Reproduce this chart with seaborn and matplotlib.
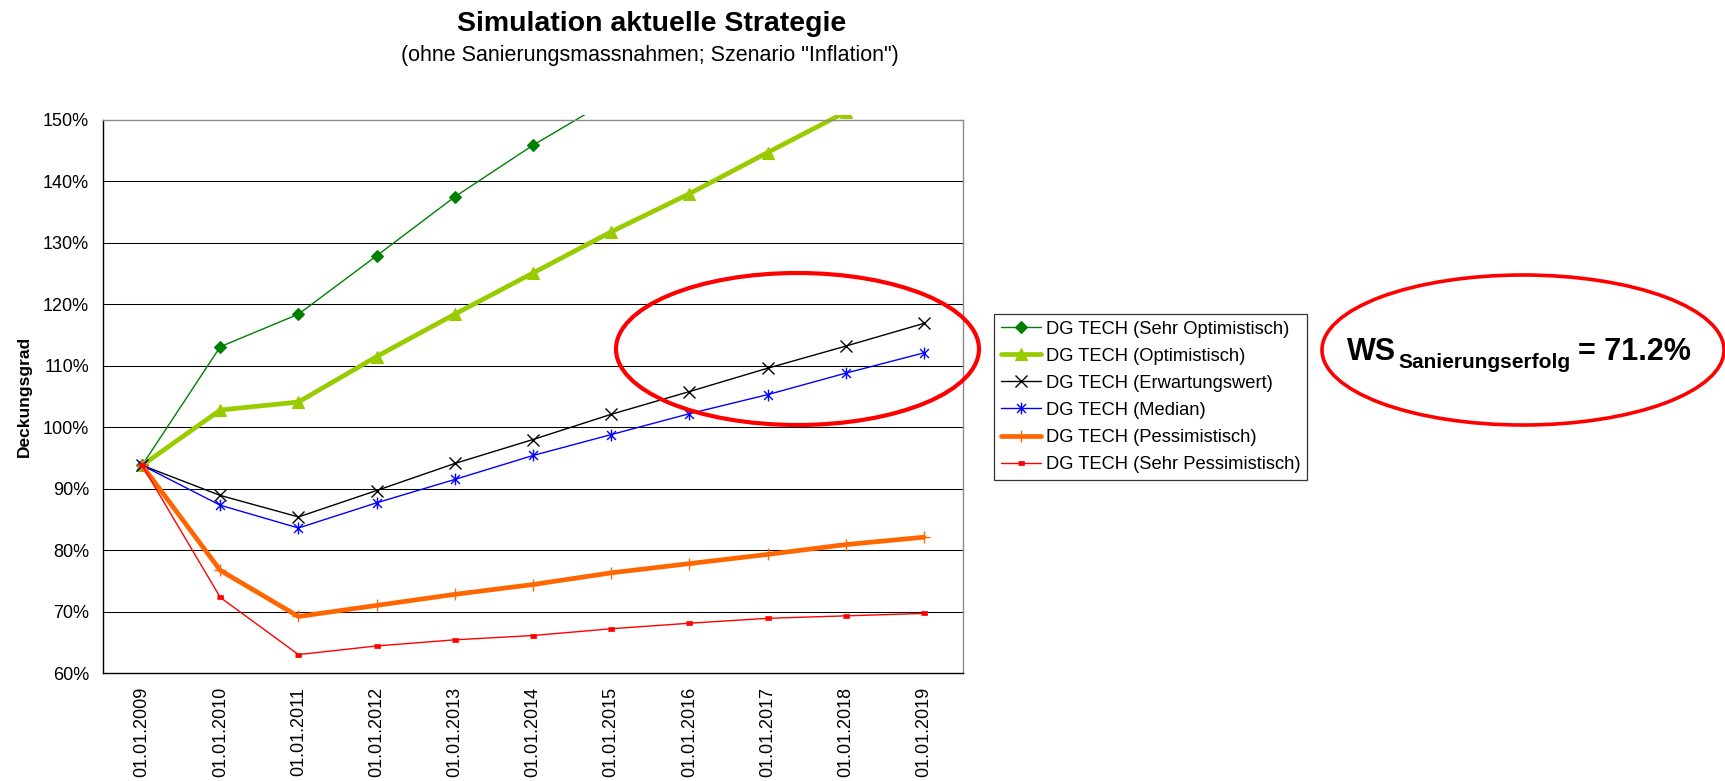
import numpy as np
import pandas as pd
import matplotlib
matplotlib.use("Agg")
import matplotlib.pyplot as plt
import seaborn as sns
from matplotlib.patches import Ellipse, Rectangle
from matplotlib.path import Path
from matplotlib.ticker import FixedLocator, FuncFormatter

# ---- data -------------------------------------------------------------
dates = ["01.01.2009", "01.01.2010", "01.01.2011", "01.01.2012", "01.01.2013",
         "01.01.2014", "01.01.2015", "01.01.2016", "01.01.2017", "01.01.2018",
         "01.01.2019"]

sehr_optimistisch = [93.8, 113.1, 118.4, 127.9, 137.5, 145.9, 153.4,
                     np.nan, np.nan, np.nan, np.nan]
optimistisch = [93.8, 102.8, 104.1, 111.5, 118.4, 125.1, 131.8, 138.0, 144.7,
                151.3, np.nan]
erwartungswert = [93.8, 88.9, 85.4, 89.7, 94.1, 98.0, 102.1, 105.8, 109.6,
                  113.2, 116.9]
median = [93.8, 87.3, 83.6, 87.7, 91.5, 95.4, 98.8, 102.2, 105.3, 108.8, 112.1]
pessimistisch = [93.8, 76.7, 69.2, 71.0, 72.8, 74.4, 76.3, 77.8, 79.3, 80.9,
                 82.1]
sehr_pessimistisch = [93.8, 72.3, 63.0, 64.4, 65.4, 66.1, 67.2, 68.1, 68.9,
                      69.3, 69.7]

series_names = ["DG TECH (Sehr Optimistisch)", "DG TECH (Optimistisch)",
                "DG TECH (Erwartungswert)", "DG TECH (Median)",
                "DG TECH (Pessimistisch)", "DG TECH (Sehr Pessimistisch)"]
series_values = [sehr_optimistisch, optimistisch, erwartungswert, median,
                 pessimistisch, sehr_pessimistisch]

y_ticks = [60, 70, 80, 90, 100, 110, 120, 130, 140, 150]
ws_erfolg = 71.2

# ---- styling ----------------------------------------------------------
sns.set_style("white")
plt.rcParams["font.family"] = ["Liberation Sans", "DejaVu Sans"]
plt.rcParams["text.color"] = "black"
plt.rcParams["axes.labelcolor"] = "black"
plt.rcParams["xtick.color"] = "black"
plt.rcParams["ytick.color"] = "black"

W, H, DPI = 1725, 781, 100


def fx(px):
    return px / W


def fy(py):
    return 1 - py / H


# Excel-like custom markers
asterisk = Path([(0, -1), (0, 1), (-0.75, -0.75), (0.75, 0.75),
                 (-0.75, 0.75), (0.75, -0.75)],
                [Path.MOVETO, Path.LINETO, Path.MOVETO, Path.LINETO,
                 Path.MOVETO, Path.LINETO])
dash_box = [(-1, -0.55), (1, -0.55), (1, 0.55), (-1, 0.55)]

styles = [
    dict(color="#008000", lw=1.0, marker="D", ms=5.8, mfc="#008000", mec="#008000", mew=0.8),
    dict(color="#99CC00", lw=3.4, marker="^", ms=9, mfc="#99CC00", mec="#99CC00", mew=0.8),
    dict(color="black", lw=1.0, marker="x", ms=8, mfc="none", mec="black", mew=1.0),
    dict(color="#0000FF", lw=1.0, marker=asterisk, ms=8.5, mfc="none", mec="#0000FF", mew=1.0),
    dict(color="#FF6600", lw=3.4, marker="+", ms=8, mfc="none", mec="#FF6600", mew=1.0),
    dict(color="#FF0000", lw=1.0, marker=dash_box, ms=5, mfc="#FF0000", mec="#FF0000", mew=0.5),
]

fig = plt.figure(figsize=(W / DPI, H / DPI), dpi=DPI)
fig.patch.set_facecolor("white")
ax = fig.add_axes([fx(103), fy(673), fx(963) - fx(103), fy(120) - fy(673)])

x_pos = np.arange(len(dates))
for name, vals, st in zip(series_names, series_values, styles):
    df = pd.DataFrame({"pos": x_pos, "value": vals}).dropna()
    sns.lineplot(data=df, x="pos", y="value", ax=ax, label=name,
                 color=st["color"], linewidth=st["lw"], marker=st["marker"],
                 markersize=st["ms"], markerfacecolor=st["mfc"],
                 markeredgecolor=st["mec"], markeredgewidth=st["mew"],
                 estimator=None, sort=False)

# let rising lines run a hair past the plot top, as the chart tool does
clip_rect = Rectangle((0, 0), 1, 1.009, transform=ax.transAxes)
for ln in ax.lines:
    ln.set_clip_path(clip_rect)

# axes
ax.set_xlim(-0.5, len(dates) - 0.5)
ax.set_ylim(60, 150)
ax.yaxis.set_major_locator(FixedLocator(y_ticks))
ax.yaxis.set_major_formatter(FuncFormatter(lambda v, _: f"{v:.0f}%"))
ax.set_xticks(x_pos)
ax.set_xticklabels(dates, rotation=90)
ax.set_xticks(np.arange(-0.5, len(dates)), minor=True)
ax.tick_params(axis="x", which="major", length=0, pad=10, labelsize=13,
               labelcolor="black")
ax.tick_params(axis="x", which="minor", length=4.5, width=0.8, direction="out",
               color="black")
ax.tick_params(axis="y", which="major", length=4, width=0.8, direction="out",
               color="black", pad=6, labelsize=13, labelcolor="black")
ax.set_xlabel("")
ax.set_ylabel("")

ax.grid(False)
for v in y_ticks[1:-1]:
    ax.axhline(v, color="black", lw=0.75, zorder=0.5)

for side in ("left", "bottom"):
    ax.spines[side].set_color("black")
    ax.spines[side].set_linewidth(1.0)
for side in ("top", "right"):
    ax.spines[side].set_color("#8C8C8C")
    ax.spines[side].set_linewidth(1.0)

fig.text(fx(24.5), fy(396), "Deckungsgrad", rotation=90, ha="center",
         va="center", fontsize=12.5, fontweight="bold", color="black")

# titles
fig.text(fx(652), fy(24), "Simulation aktuelle Strategie", ha="center",
         va="center", fontsize=20.5, fontweight="bold", color="black")
fig.text(fx(650), fy(55),
         '(ohne Sanierungsmassnahmen; Szenario "Inflation")', ha="center",
         va="center", fontsize=15.5, color="black")

# legend
leg = ax.legend(loc="upper left", bbox_to_anchor=(fx(994), fy(314)),
                bbox_transform=fig.transFigure, borderaxespad=0,
                fontsize=13.2, frameon=True, fancybox=False, shadow=False,
                handlelength=2.2, handletextpad=0.25, borderpad=0.36,
                labelspacing=0.55, numpoints=1)
leg.get_frame().set_edgecolor("black")
leg.get_frame().set_linewidth(0.9)
for t in leg.get_texts():
    t.set_color("black")

# highlight rings
fig.add_artist(Ellipse((fx(797.5), fy(349)), fx(363), 152 / H,
                       transform=fig.transFigure, fill=False,
                       edgecolor="#FF0000", linewidth=3.0))
fig.add_artist(Ellipse((fx(1523), fy(350)), fx(402), 150 / H,
                       transform=fig.transFigure, fill=False,
                       edgecolor="#FF0000", linewidth=2.6))

# success probability annotation
fig.text(fx(1347), fy(360), "WS", ha="left", va="baseline", fontsize=22,
         fontweight="bold", color="black")
fig.text(fx(1398), fy(368), "Sanierungserfolg", ha="left", va="baseline",
         fontsize=15, fontweight="bold", color="black")
fig.text(fx(1578), fy(360), f"= {ws_erfolg:.1f}%", ha="left", va="baseline",
         fontsize=22, fontweight="bold", color="black")

fig.savefig("out.png", dpi=DPI, facecolor="white")
